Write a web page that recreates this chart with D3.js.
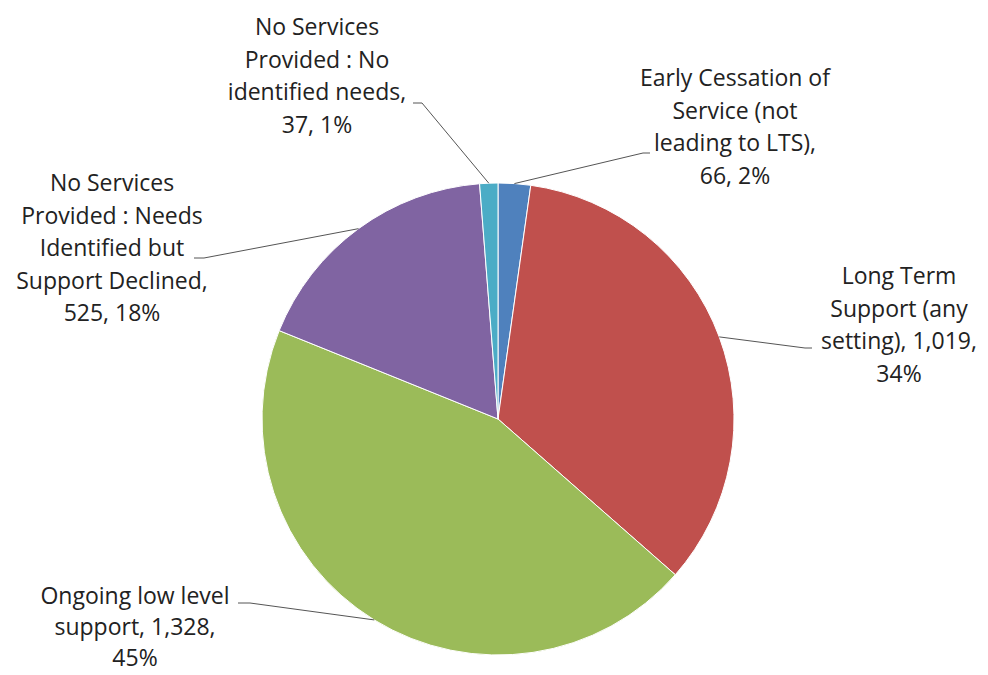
<!DOCTYPE html>
<html>
<head>
<meta charset="utf-8">
<script src="https://cdn.jsdelivr.net/npm/d3@7"></script>
<style>
  html, body { margin: 0; padding: 0; background: #fff; }
  svg { display: block; }
  text { font-family: "Open Sans", "DejaVu Sans", sans-serif; fill: #222; }
</style>
</head>
<body>
<svg id="chart" width="988" height="675"></svg>
<script>
// data, in drawing order (clockwise from 12 o'clock)
var categories = [
  "Early Cessation of Service (not leading to LTS)",
  "Long Term Support (any setting)",
  "Ongoing low level support",
  "No Services Provided : Needs Identified but Support Declined",
  "No Services Provided : No identified needs"
];
var counts = [66, 1019, 1328, 525, 37];
var percentLabels = ["2%", "34%", "45%", "18%", "1%"];
var countLabels = ["66", "1,019", "1,328", "525", "37"];
// label text as wrapped in the original chart
var labelLines = [
  ["Early Cessation of", "Service (not", "leading to LTS),", "66, 2%"],
  ["Long Term", "Support (any", "setting), 1,019,", "34%"],
  ["Ongoing low level", "support, 1,328,", "45%"],
  ["No Services", "Provided : Needs", "Identified but", "Support Declined,", "525, 18%"],
  ["No Services", "Provided : No", "identified needs,", "37, 1%"]
];
var colors = ["#4f81bd", "#c0504d", "#9bbb59", "#8064a2", "#4bacc6"];

// layout: label centre x, first baseline y, leader end (label side) and elbow
var labelLayout = [
  {x: 735, y: 86,  gap: 32.5, end: [650, 153], elbow: [643, 153]},
  {x: 899, y: 284, gap: 32.5, end: [812, 348], elbow: [805, 348]},
  {x: 135, y: 604, gap: 31,   end: [238, 603], elbow: [250, 603]},
  {x: 112, y: 191, gap: 32.5, end: [194, 258], elbow: [204, 258]},
  {x: 317, y: 35,  gap: 32.5, end: [413, 103], elbow: [422, 103]}
];

var cx = 498, cy = 419, radius = 236;

var svg = d3.select("#chart");
var g = svg.append("g").attr("transform", "translate(" + cx + "," + cy + ")");

var pie = d3.pie().sort(null).value(function(d) { return d; });
var arcs = pie(counts);
var arc = d3.arc().innerRadius(0).outerRadius(radius);

g.selectAll("path.slice")
  .data(arcs)
  .enter().append("path")
    .attr("class", "slice")
    .attr("d", arc)
    .attr("fill", function(d, i) { return colors[i]; })
    .attr("stroke", "#fff")
    .attr("stroke-width", 1);

// leader lines from slice edge (mid angle) to label
var line = d3.line();
svg.selectAll("path.leader")
  .data(arcs)
  .enter().append("path")
    .attr("class", "leader")
    .attr("fill", "none")
    .attr("stroke", "#555")
    .attr("stroke-width", 1)
    .attr("d", function(d, i) {
      var a = (d.startAngle + d.endAngle) / 2;
      var p = [cx + radius * Math.sin(a), cy - radius * Math.cos(a)];
      var L = labelLayout[i];
      return line([p, L.elbow, L.end]);
    });

// labels
var labels = svg.selectAll("text.label")
  .data(arcs)
  .enter().append("text")
    .attr("class", "label")
    .attr("text-anchor", "middle")
    .style("font-size", "23px");

labels.each(function(d, i) {
  var L = labelLayout[i];
  d3.select(this).selectAll("tspan")
    .data(labelLines[i])
    .enter().append("tspan")
      .attr("x", L.x)
      .attr("y", function(t, j) { return L.y + j * L.gap; })
      .text(function(t) { return t; });
});
</script>
</body>
</html>
